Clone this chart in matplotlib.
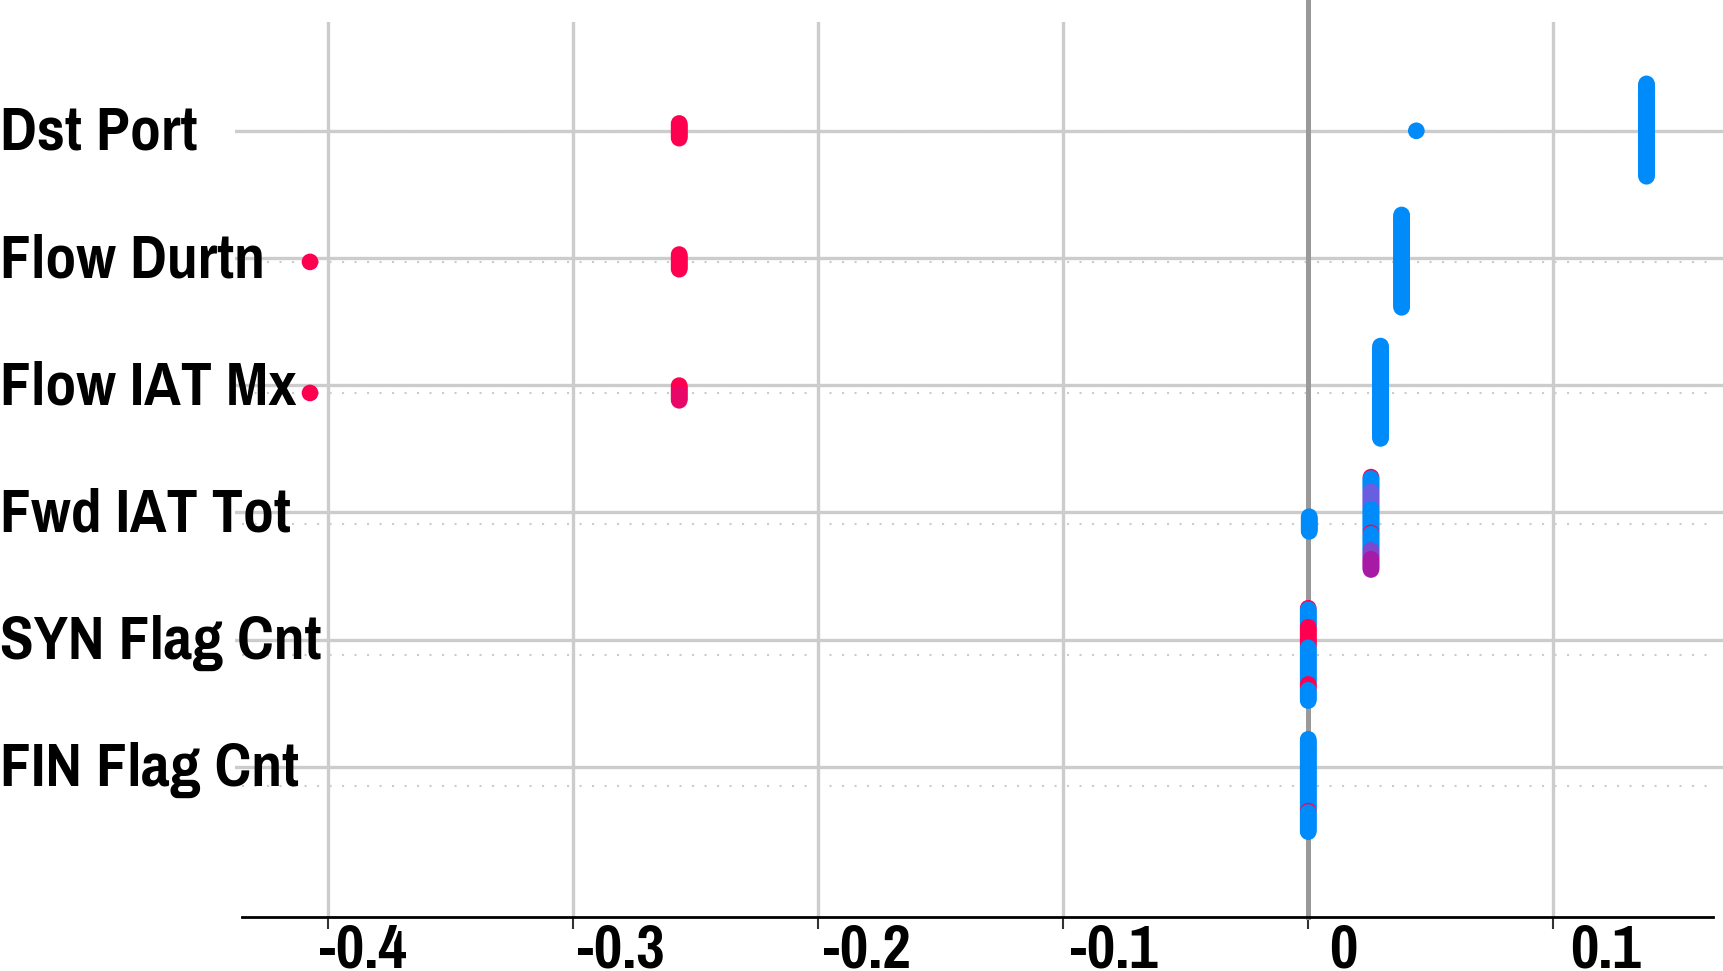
import numpy as np
import matplotlib
matplotlib.use('Agg')
import matplotlib.pyplot as plt
from matplotlib.colors import LinearSegmentedColormap
from matplotlib.transforms import ScaledTranslation, blended_transform_factory

# features, top to bottom
features = ['Dst Port', 'Flow Durtn', 'Flow IAT Mx', 'Fwd IAT Tot', 'SYN Flag Cnt', 'FIN Flag Cnt']

# SHAP value of every cluster, and the (scaled) feature values of its points, top to bottom
dst_port_shap = [-0.2566, 0.0441, 0.138]
dst_port_vals = [[1.0] * 11, [0.0], [0.0] * 64]
flow_durtn_shap = [-0.4072, -0.2566, 0.0381]
flow_durtn_vals = [[1.0], [1.0] * 11, [0.0] * 64]
flow_iat_mx_shap = [-0.4072, -0.2566, 0.0295]
flow_iat_mx_vals = [[1.0], [1.0] * 6 + [0.9] * 5, [0.0] * 64]
fwd_iat_tot_shap = [0.0004, 0.0256]
fwd_iat_tot_vals = [[0.0] * 11,
                    [1.0] + [0.0] * 9 + [0.35] * 12 + [0.0] * 16 + [1.0] + [0.0] * 11 + [0.45] * 6 + [0.65] * 8]
syn_flag_shap = [0.0]
syn_flag_vals = [[1.0] + [0.0] * 12 + [1.0] * 14 + [0.0] * 25 + [1.0] * 4 + [0.0] * 8]
fin_flag_shap = [0.0]
fin_flag_vals = [[0.0] * 49 + [1.0] + [0.0] * 14]

xticks = [-0.4, -0.3, -0.2, -0.1, 0, 0.1]
xtick_labels = ['-0.4', '-0.3', '-0.2', '-0.1', '0', '0.1']
# the tick labels sit right of their ticks, by these many pixels
xtick_shift_px = [35, 48, 49, 51, 35, 52]

shap_values = [dst_port_shap, flow_durtn_shap, flow_iat_mx_shap, fwd_iat_tot_shap, syn_flag_shap, fin_flag_shap]
feature_values = [dst_port_vals, flow_durtn_vals, flow_iat_mx_vals, fwd_iat_tot_vals, syn_flag_vals, fin_flag_vals]

family = ['Pragati Narrow', 'Liberation Sans', 'DejaVu Sans']
fsize = 48.5

red_blue = LinearSegmentedColormap.from_list(
    'red_blue', [(0.0, '#008bfb'), (0.35, '#6a5ee0'), (0.65, '#a61aa6'), (1.0, '#ff0051')])


def layers(n):
    # beeswarm layers, like shap: 0, +1, -1, +2, -2 ... sorted top to bottom
    k = np.arange(n)
    ys = np.ceil(k / 2) * ((k % 2) * 2 - 1)
    return np.sort(ys)[::-1]


fig = plt.figure(figsize=(17.23, 9.71), dpi=100)
ax = fig.add_axes([0.13639, 0.05530, 0.86361, 0.92204])
ax.set_xlim(-0.4378, 0.1692)
ax.set_ylim(0, 6.83)

n_feat = len(features)
row_pos = n_feat - np.arange(n_feat)
grid_pos = n_feat - 0.9705 * np.arange(n_feat)
x_lo, x_hi = -0.4351, 0.1652

for i in range(n_feat):
    pos = row_pos[i]
    ax.plot([x_lo, 0.163], [pos, pos], color='#cccccc', lw=1.5, ls=(0, (1, 5)), zorder=1)
    m = max(layers(len(v)).max() for v in feature_values[i])
    scale = 0.9 * 0.41 / (m + 1)
    xs, ys, cs = [], [], []
    for sv, vals in zip(shap_values[i], feature_values[i]):
        off = layers(len(vals)) * scale
        xs += [sv] * len(vals)
        ys += list(pos + off)
        cs += vals
    ax.scatter(xs, ys, c=cs, cmap=red_blue, vmin=0, vmax=1, s=144, linewidth=0, zorder=3)

ax.axvline(0, ymin=0, ymax=1 + 22 / 895.3, color='#999999', lw=3.6, clip_on=False, zorder=2)

ax.set_yticks(grid_pos)
ax.set_yticklabels([])
ax.tick_params(axis='y', length=0)
ax.set_xticks(xticks)
ax.set_xticklabels(xtick_labels, fontfamily=family, fontweight='bold', fontsize=fsize)
ax.tick_params(axis='x', direction='out', length=8.5, width=1.5, color='#333333', pad=-4)
for lab, px in zip(ax.get_xticklabels(), xtick_shift_px):
    lab.set_transform(lab.get_transform() + ScaledTranslation(px / 100, 0, fig.dpi_scale_trans))

ax.set_axisbelow(True)
ax.grid(color='#cccccc', lw=2.4)
for side in ['left', 'top', 'right']:
    ax.spines[side].set_visible(False)
ax.spines['bottom'].set_bounds(x_lo, x_hi)
ax.spines['bottom'].set_linewidth(2)
ax.spines['bottom'].set_color('black')

trans = blended_transform_factory(fig.transFigure, ax.transData) + ScaledTranslation(0, -0.19, fig.dpi_scale_trans)
for name, y in zip(features, grid_pos):
    fig.text(0, y, name, transform=trans, ha='left', va='baseline',
             fontfamily=family, fontweight='bold', fontsize=fsize)

fig.savefig('out.png', dpi=100)
